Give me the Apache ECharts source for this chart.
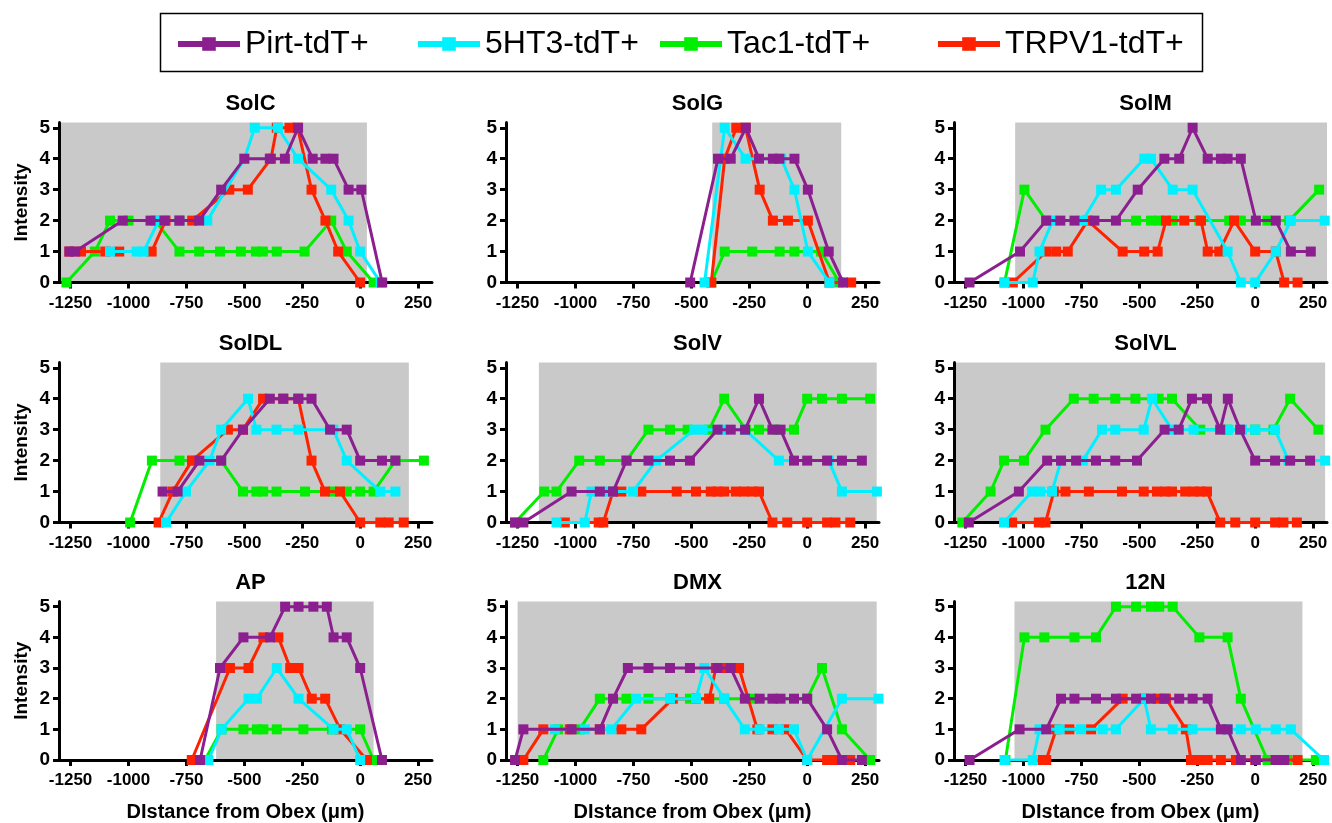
<!DOCTYPE html>
<html><head><meta charset="utf-8">
<script src="https://cdn.jsdelivr.net/npm/echarts@6/dist/echarts.min.js"></script>
<style>html,body{margin:0;padding:0;background:#fff}#c{width:1332px;height:823px}</style>
</head><body><div id="c"></div>
<script>
// ---------- DATA ----------
const xTicks = [-1250, -1000, -750, -500, -250, 0, 250];
const yTicks = [0, 1, 2, 3, 4, 5];
const seriesNames = ['Pirt-tdT+', '5HT3-tdT+', 'Tac1-tdT+', 'TRPV1-tdT+'];
const panelTitles = ['SolC', 'SolG', 'SolM', 'SolDL', 'SolV', 'SolVL', 'AP', 'DMX', '12N'];
// grey shaded extent (distance from obex) per panel
const greyRanges = [[-1300, 29], [-410, 147], [-1036, 310], [-863, 210], [-1158, 300], [-1300, 302], [-622, 58], [-1250, 300], [-1039, 204]];

// SolC
const SolC_Pirt = [[-1255,1],[-1230,1],[-1025,2],[-905,2],[-845,2],[-780,2],[-695,2],[-600,3],[-500,4],[-390,4],[-325,4],[-268,5],[-205,4],[-150,4],[-115,4],[-50,3],[5,3],[95,0]];
const SolC_5HT3 = [[-1080,1],[-965,1],[-935,1],[-870,2],[-780,2],[-660,2],[-500,4],[-455,5],[-355,5],[-268,4],[-125,3],[-50,2],[0,1],[88,0]];
const SolC_Tac1 = [[-1268,0],[-1145,1],[-1080,2],[-1000,2],[-885,2],[-780,1],[-695,1],[-605,1],[-515,1],[-450,1],[-420,1],[-360,1],[-240,1],[-125,2],[-58,1],[58,0]];
const SolC_TRPV1 = [[-1255,1],[-1205,1],[-1100,1],[-1040,1],[-900,1],[-840,2],[-780,2],[-725,2],[-565,3],[-485,3],[-385,4],[-360,5],[-305,5],[-270,5],[-210,3],[-150,2],[-95,1],[0,0]];
// SolG
const SolG_Pirt = [[-505,0],[-385,4],[-330,4],[-265,5],[-208,4],[-148,4],[-120,4],[-55,4],[3,3],[93,1],[155,0]];
const SolG_5HT3 = [[-443,0],[-356,5],[-266,4],[-112,4],[-55,3],[3,1],[96,0]];
const SolG_Tac1 = [[-414,0],[-356,1],[-237,1],[-119,1],[-55,1],[60,1],[139,0]];
const SolG_TRPV1 = [[-414,0],[-356,4],[-306,5],[-266,5],[-205,3],[-148,2],[-83,2],[3,2],[96,0],[190,0]];
// SolM
const SolM_Pirt = [[-1233,0],[-1015,1],[-902,2],[-841,2],[-780,2],[-694,2],[-601,2],[-507,3],[-392,4],[-328,4],[-270,5],[-205,4],[-148,4],[-119,4],[-62,4],[3,2],[89,2],[154,1],[240,1]];
const SolM_5HT3 = [[-1082,0],[-960,0],[-931,1],[-874,2],[-744,2],[-665,3],[-601,3],[-479,4],[-450,4],[-356,3],[-270,3],[-119,1],[-62,0],[0,0],[89,1],[154,2],[300,2]];
const SolM_Tac1 = [[-1082,0],[-996,3],[-902,2],[-514,2],[-450,2],[-414,2],[-356,2],[-241,2],[-112,2],[-62,2],[53,2],[147,2],[276,3]];
const SolM_TRPV1 = [[-1046,0],[-902,1],[-859,1],[-809,1],[-723,2],[-572,1],[-479,1],[-421,1],[-385,2],[-306,2],[-234,2],[-205,1],[-155,1],[-91,2],[0,1],[89,1],[125,0],[183,0]];
// SolDL
const SolDL_Pirt = [[-853,1],[-788,1],[-694,2],[-600,2],[-506,3],[-390,4],[-332,4],[-267,4],[-210,4],[-130,3],[-58,3],[0,2],[94,2],[152,2]];
const SolDL_5HT3 = [[-838,0],[-752,1],[-650,2],[-600,3],[-484,4],[-448,3],[-361,3],[-267,3],[-116,3],[-58,2],[87,1],[152,1]];
const SolDL_Tac1 = [[-993,0],[-899,2],[-780,2],[-723,2],[-600,2],[-506,1],[-448,1],[-419,1],[-361,1],[-238,1],[-116,1],[-58,1],[0,1],[58,1],[152,2],[275,2]];
const SolDL_TRPV1 = [[-870,0],[-809,1],[-726,2],[-571,3],[-506,3],[-419,4],[-332,4],[-267,4],[-210,2],[-152,1],[-87,1],[0,0],[87,0],[123,0],[188,0]];
// SolV
const SolV_Pirt = [[-1261,0],[-1225,0],[-1017,1],[-895,1],[-838,1],[-780,2],[-685,2],[-592,2],[-506,2],[-387,3],[-330,3],[-268,3],[-208,4],[-150,3],[-115,3],[-57,2],[0,2],[86,2],[150,2],[236,2]];
const SolV_5HT3 = [[-1082,0],[-960,0],[-931,1],[-860,1],[-752,1],[-652,2],[-487,3],[-451,3],[-365,3],[-269,3],[-122,2],[93,2],[150,1],[301,1]];
const SolV_Tac1 = [[-1261,0],[-1135,1],[-1082,1],[-984,2],[-895,2],[-780,2],[-685,3],[-592,3],[-516,3],[-423,3],[-358,4],[-265,3],[-208,3],[-136,3],[-57,3],[0,4],[64,4],[150,4],[272,4]];
const SolV_TRPV1 = [[-1046,0],[-900,0],[-880,0],[-838,1],[-802,1],[-716,1],[-563,1],[-480,1],[-416,1],[-387,1],[-358,1],[-308,1],[-272,1],[-236,1],[-208,1],[-150,0],[-86,0],[0,0],[86,0],[122,0],[186,0]];
// SolVL
const SolVL_Pirt = [[-1236,0],[-1020,1],[-898,2],[-838,2],[-773,2],[-687,2],[-604,2],[-510,2],[-391,3],[-330,3],[-273,4],[-208,4],[-151,3],[-118,4],[-65,3],[0,2],[86,2],[151,2],[237,2]];
const SolVL_5HT3 = [[-1084,0],[-963,1],[-927,1],[-877,1],[-838,2],[-744,2],[-661,3],[-604,3],[-481,3],[-445,4],[-359,3],[-266,3],[-115,3],[-57,3],[0,3],[86,3],[144,2],[302,2]];
const SolVL_Tac1 = [[-1264,0],[-1142,1],[-1084,2],[-998,2],[-905,3],[-783,4],[-697,4],[-604,4],[-517,4],[-417,4],[-359,4],[-237,3],[-122,3],[0,3],[79,3],[151,4],[273,3]];
const SolVL_TRPV1 = [[-1049,0],[-934,0],[-905,0],[-869,1],[-819,1],[-718,1],[-575,1],[-481,1],[-424,1],[-388,1],[-359,1],[-302,1],[-266,1],[-237,1],[-208,1],[-151,0],[-86,0],[0,0],[86,0],[122,0],[180,0]];
// AP
const AP_Pirt = [[-691,0],[-605,3],[-504,4],[-389,4],[-324,5],[-266,5],[-202,5],[-144,5],[-115,4],[-58,4],[0,3],[94,0]];
const AP_5HT3 = [[-655,0],[-598,1],[-482,2],[-446,2],[-360,3],[-266,2],[-115,1],[-58,1],[0,0]];
const AP_Tac1 = [[-670,0],[-598,1],[-504,1],[-446,1],[-418,1],[-360,1],[-245,1],[-122,1],[0,1],[58,0]];
const AP_TRPV1 = [[-727,0],[-562,3],[-482,3],[-418,4],[-353,4],[-302,3],[-266,3],[-209,2],[-151,2],[-86,1],[29,0]];
// DMX
const DMX_Pirt = [[-1261,0],[-1225,1],[-1017,1],[-895,1],[-838,2],[-774,3],[-685,3],[-592,3],[-506,3],[-387,3],[-330,3],[-269,2],[-205,2],[-150,2],[-115,2],[-57,2],[0,2],[86,1],[150,0],[236,0]];
const DMX_5HT3 = [[-1089,1],[-960,1],[-845,1],[-738,2],[-592,2],[-480,2],[-444,3],[-358,2],[-269,1],[-205,1],[-122,1],[-57,1],[0,0],[150,2],[308,2]];
const DMX_Tac1 = [[-1139,0],[-1075,1],[-982,1],[-895,2],[-780,2],[-685,2],[-592,2],[-506,2],[-423,2],[-358,2],[-236,2],[0,2],[64,3],[150,1],[272,0]];
const DMX_TRPV1 = [[-1225,0],[-1139,1],[-1025,1],[-895,1],[-802,1],[-716,1],[-580,2],[-480,2],[-423,2],[-394,3],[-358,3],[-294,3],[-215,1],[-150,1],[-93,1],[0,0],[86,0],[122,0],[186,0]];
// 12N
const N12_Pirt = [[-1233,0],[-1017,1],[-902,1],[-838,2],[-780,2],[-687,2],[-601,2],[-514,2],[-450,2],[-392,2],[-328,2],[-270,2],[-205,2],[-148,1],[-119,1],[-62,0],[3,0],[89,0],[125,0]];
const N12_5HT3 = [[-1082,0],[-960,0],[-931,1],[-845,1],[-752,1],[-658,1],[-601,1],[-479,2],[-450,1],[-356,1],[-270,1],[-119,1],[-62,1],[3,1],[89,1],[154,1],[297,0]];
const N12_Tac1 = [[-1078,0],[-996,4],[-910,4],[-780,4],[-687,4],[-601,5],[-514,5],[-450,5],[-414,5],[-356,5],[-241,4],[-119,4],[-62,2],[53,0],[139,0],[262,0]];
const N12_TRPV1 = [[-917,0],[-902,0],[-859,1],[-802,1],[-708,1],[-572,2],[-479,2],[-421,2],[-385,2],[-299,1],[-277,0],[-241,0],[-205,0],[-148,0],[-83,0],[0,0],[89,0],[125,0],[183,0]];

// ---------- BUILD ----------
const panelData = [
  [SolC_Pirt, SolC_5HT3, SolC_Tac1, SolC_TRPV1],
  [SolG_Pirt, SolG_5HT3, SolG_Tac1, SolG_TRPV1],
  [SolM_Pirt, SolM_5HT3, SolM_Tac1, SolM_TRPV1],
  [SolDL_Pirt, SolDL_5HT3, SolDL_Tac1, SolDL_TRPV1],
  [SolV_Pirt, SolV_5HT3, SolV_Tac1, SolV_TRPV1],
  [SolVL_Pirt, SolVL_5HT3, SolVL_Tac1, SolVL_TRPV1],
  [AP_Pirt, AP_5HT3, AP_Tac1, AP_TRPV1],
  [DMX_Pirt, DMX_5HT3, DMX_Tac1, DMX_TRPV1],
  [N12_Pirt, N12_5HT3, N12_Tac1, N12_TRPV1]
];
const colors = ['#8c1f8f', '#00f0ff', '#00ee00', '#ff2200'];
const drawOrder = [2, 3, 1, 0]; // Tac1, TRPV1, 5HT3, Pirt (Pirt on top)
const FONT = "'Liberation Sans', Arial, Helvetica, sans-serif";
const X_MIN = -1300, X_MAX = 310, Y_MAX = 5.17;
const colLeft = [59, 506, 954], rowTop = [122.5, 362.5, 601.5];
const GW = 373, GH = 160;

const grids = [], xAxes = [], yAxes = [], series = [], titles = [];
for (let p = 0; p < 9; p++) {
  const r = Math.floor(p / 3), c = p % 3;
  grids.push({left: colLeft[c], top: rowTop[r], width: GW, height: GH, containLabel: false});
  xAxes.push({
    type: 'value', gridIndex: p, min: X_MIN, max: X_MAX,
    axisLine: {show: true, onZero: false, lineStyle: {color: '#000', width: 3}},
    axisTick: {show: true, length: 6, lineStyle: {color: '#000', width: 3}, customValues: xTicks},
    axisLabel: {customValues: xTicks, formatter: function (v) { return String(v); }, color: '#000', fontWeight: 'bold', fontSize: 17, fontFamily: FONT, margin: 12},
    splitLine: {show: false},
    name: r === 2 ? 'DIstance from Obex (\u03bcm)' : '',
    nameLocation: 'middle', nameGap: 42,
    nameTextStyle: {color: '#000', fontWeight: 'bold', fontSize: 20, fontFamily: FONT}
  });
  yAxes.push({
    type: 'value', gridIndex: p, min: 0, max: Y_MAX,
    axisLine: {show: true, onZero: false, lineStyle: {color: '#000', width: 3}},
    axisTick: {show: true, length: 6, lineStyle: {color: '#000', width: 3}, customValues: yTicks},
    axisLabel: {customValues: yTicks, formatter: function (v) { return String(v); }, color: '#000', fontWeight: 'bold', fontSize: 19, fontFamily: FONT, margin: 9},
    splitLine: {show: false},
    name: c === 0 ? 'Intensity' : '',
    nameLocation: 'middle', nameGap: 28,
    nameTextStyle: {color: '#000', fontWeight: 'bold', fontSize: 19, fontFamily: FONT}
  });
  titles.push({
    text: panelTitles[p], left: colLeft[c] + GW / 2, top: rowTop[r] - 35, textAlign: 'center',
    textStyle: {color: '#000', fontWeight: 'bold', fontSize: 22, fontFamily: FONT}
  });
  series.push({
    type: 'custom', xAxisIndex: p, yAxisIndex: p, z: 0, silent: true,
    data: [[greyRanges[p][0], greyRanges[p][1], Y_MAX]],
    renderItem: function (params, api) {
      const p0 = api.coord([api.value(0), api.value(2)]);
      const p1 = api.coord([api.value(1), 0]);
      return {type: 'rect', shape: {x: p0[0], y: p0[1], width: p1[0] - p0[0], height: p1[1] - p0[1]}, style: {fill: '#c9c9c9'}};
    }
  });
  drawOrder.forEach(function (k) {
    series.push({
      type: 'line', name: seriesNames[k], xAxisIndex: p, yAxisIndex: p, z: 2 + drawOrder.indexOf(k),
      data: panelData[p][k], symbol: 'rect', symbolSize: 10, showSymbol: true,
      lineStyle: {color: colors[k], width: 3}, itemStyle: {color: colors[k]},
      emphasis: {disabled: true}
    });
  });
}

const legendLeft = [170, 410, 652, 930];
const legends = seriesNames.map(function (n, i) {
  return {
    data: [n], left: legendLeft[i], top: 23, itemWidth: 62, itemHeight: 17, itemGap: 0, selectedMode: false,
    lineStyle: {width: 6},
    textStyle: {color: '#000', fontSize: 32, fontFamily: FONT}
  };
});

const chart = echarts.init(document.getElementById('c'), null, {renderer: 'canvas'});
chart.setOption({
  animation: false,
  backgroundColor: '#fff',
  title: titles,
  legend: legends,
  grid: grids, xAxis: xAxes, yAxis: yAxes, series: series,
  graphic: [{type: 'rect', left: 158, top: 11, shape: {width: 1042, height: 58}, style: {fill: 'none', stroke: '#000', lineWidth: 1.5}, z: 10}]
});
</script></body></html>
